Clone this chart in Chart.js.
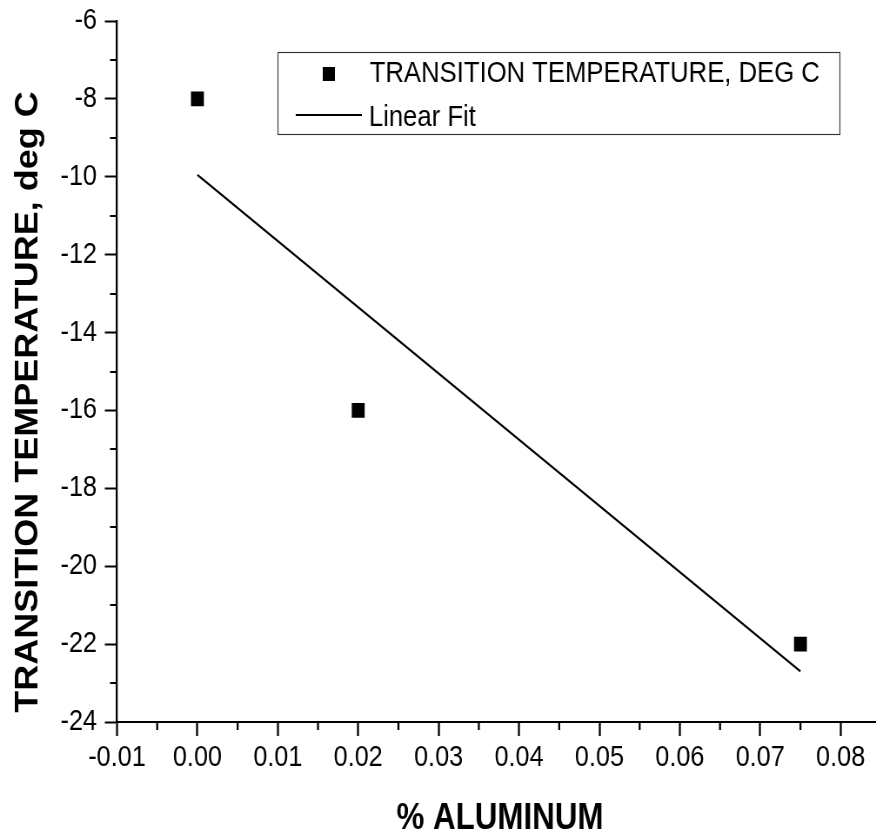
<!DOCTYPE html>
<html lang="en">
<head>
  <meta charset="UTF-8" />
  <title>Transition temperature vs % aluminum</title>
  <script src="https://cdn.jsdelivr.net/npm/chart.js"></script>
  <style>
    html, body { margin: 0; padding: 0; background: #fff; overflow: hidden; }
    /* the original figure is squeezed horizontally, so the canvas is drawn wider and shown at 876px */
    #chart { display: block; width: 876px; height: 836px; }
  </style>
</head>
<body>
  <canvas id="chart" width="1007" height="836" style="width:876px;height:836px"></canvas>

  <script>
    // measured points
    const aluminum = [0, 0.02, 0.075];
    const transTemp = [-8, -16, -22];
    // fitted line end points
    const fitX = [0, 0.075];
    const fitY = [-9.95, -22.7];

    const xTicks = [-0.01, 0, 0.01, 0.02, 0.03, 0.04, 0.05, 0.06, 0.07, 0.08];
    const xMinor = [-0.005, 0.005, 0.015, 0.025, 0.035, 0.045, 0.055, 0.065, 0.075];
    const yTicks = [-24, -22, -20, -18, -16, -14, -12, -10, -8, -6];
    const yMinor = [-23, -21, -19, -17, -15, -13, -11, -9, -7];

    const seriesLabel = 'TRANSITION TEMPERATURE, DEG C';
    const fitLabel = 'Linear Fit';
    const xTitle = '% ALUMINUM';
    const yTitle = 'TRANSITION TEMPERATURE, deg C';

    const sans = "'Liberation Sans', Arial, sans-serif";

    // minor ticks, axis titles and the boxed legend
    const extras = {
      id: 'extras',
      afterDraw(chart) {
        const ctx = chart.ctx;
        const xs = chart.scales.x, ys = chart.scales.y;
        const area = chart.chartArea;
        ctx.save();
        ctx.strokeStyle = '#000';
        ctx.lineWidth = 2.3;
        ctx.beginPath();
        xMinor.forEach(v => {
          const px = xs.getPixelForValue(v);
          ctx.moveTo(px, area.bottom);
          ctx.lineTo(px, area.bottom + 8);
        });
        ctx.stroke();
        ctx.lineWidth = 2;
        ctx.beginPath();
        yMinor.forEach(v => {
          const py = Math.round(ys.getPixelForValue(v));
          ctx.moveTo(area.left, py);
          ctx.lineTo(area.left - 8, py);
        });
        ctx.stroke();

        ctx.fillStyle = '#000';
        ctx.font = 'bold 36px ' + sans;
        ctx.textAlign = 'center';
        ctx.textBaseline = 'alphabetic';
        ctx.fillText(xTitle, (area.left + area.right) / 2 + 4, 829);

        ctx.save();
        ctx.translate(42.5, 402);
        ctx.rotate(-Math.PI / 2);
        ctx.fillText(yTitle, 0, 0);
        ctx.restore();

        // legend
        ctx.lineWidth = 1.15;
        ctx.strokeStyle = '#333';
        ctx.strokeRect(319.5, 52.5, 646, 82);
        ctx.fillRect(371, 67, 14, 14);
        ctx.lineWidth = 2;
        ctx.strokeStyle = '#000';
        ctx.beginPath();
        ctx.moveTo(340, 115);
        ctx.lineTo(416, 115);
        ctx.stroke();
        ctx.font = '29.5px ' + sans;
        ctx.textAlign = 'left';
        ctx.fillText(seriesLabel, 425, 82);
        ctx.fillText(fitLabel, 424, 126);
        ctx.restore();
      }
    };

    new Chart(document.getElementById('chart'), {
      type: 'scatter',
      data: {
        datasets: [{
          label: seriesLabel,
          data: aluminum.map((x, i) => ({ x, y: transTemp[i] })),
          pointStyle: 'rect',
          pointRadius: 10.5,
          borderWidth: 0,
          backgroundColor: '#000',
          showLine: false
        }, {
          label: fitLabel,
          data: fitX.map((x, i) => ({ x, y: fitY[i] })),
          showLine: true,
          borderColor: '#000',
          borderWidth: 2.2,
          pointRadius: 0
        }]
      },
      options: {
        responsive: false,
        animation: false,
        devicePixelRatio: 1,
        layout: { autoPadding: false, padding: { top: 21, right: 0, left: 0, bottom: 0 } },
        plugins: { legend: { display: false }, tooltip: { enabled: false } },
        scales: {
          x: {
            type: 'linear',
            min: -0.01,
            max: 0.0844,
            afterBuildTicks: s => { s.ticks = xTicks.map(v => ({ value: v })); },
            afterFit: s => { s.height = 114; s.paddingLeft = 0; s.paddingRight = 0; },
            grid: { drawOnChartArea: false, tickLength: 14, tickWidth: 2.3, tickColor: '#000' },
            border: { display: true, color: '#000', width: 2 },
            ticks: {
              color: '#000',
              padding: 5,
              maxRotation: 0,
              autoSkip: false,
              font: { family: sans, size: 29 },
              callback: v => v.toFixed(2)
            }
          },
          y: {
            min: -24,
            max: -6,
            afterBuildTicks: s => { s.ticks = yTicks.map(v => ({ value: v })); },
            afterFit: s => { s.width = 134.5; s.paddingTop = 0; s.paddingBottom = 0; },
            grid: { drawOnChartArea: false, tickLength: 14, tickWidth: 2, tickColor: '#000' },
            border: { display: true, color: '#000', width: 2.3 },
            ticks: {
              color: '#000',
              padding: 9,
              autoSkip: false,
              font: { family: sans, size: 29 },
              callback: v => String(v)
            }
          }
        }
      },
      plugins: [extras]
    });
  </script>
</body>
</html>
